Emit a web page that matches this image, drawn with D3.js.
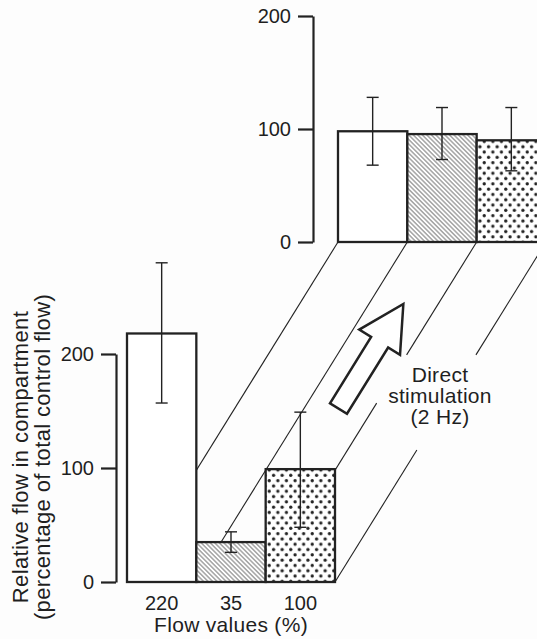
<!DOCTYPE html>
<html><head><meta charset="utf-8">
<script src="https://cdn.jsdelivr.net/npm/d3@7"></script>
<style>
html,body{margin:0;padding:0;background:#fdfdfd;}
svg{display:block;}
text{font-family:"Liberation Sans",Arial,sans-serif;fill:#1f1f1f;}
</style></head><body>
<script>
// ---- data ----
const categories = ["220", "35", "100"];          // flow values (%)
const controlMean = [218, 35, 99];
const controlHigh = [280, 44, 149];
const controlLow  = [157, 26, 48];
const stimMean = [98, 95.5, 90];                 // direct stimulation (2 Hz)
const stimHigh = [128, 119, 119];
const stimLow  = [68, 73, 63];
const yTicks = [0, 100, 200];
const yTitle = ["Relative flow in compartment", "(percentage of total control flow)"];
const xTitle = "Flow values (%)";
const note = ["Direct", "stimulation", "(2 Hz)"];

// ---- layout ----
const W = 537, H = 639, ink = "#222";
const depth = {dx: 211, dy: -340};
const depthGaps = [null, null, [0.526, 0.668], [0.388, 0.668]];
const svg = d3.select("body").append("svg").attr("width", W).attr("height", H);

const defs = svg.append("defs");
const hs = 3.2;
const hatch = defs.append("pattern").attr("id", "hatch").attr("patternUnits", "userSpaceOnUse")
  .attr("width", hs).attr("height", hs).attr("patternTransform", "rotate(-45)");
hatch.append("rect").attr("width", hs).attr("height", hs).attr("fill", "#fff");
hatch.append("line").attr("x1", hs / 2).attr("x2", hs / 2).attr("y1", 0).attr("y2", hs)
  .attr("stroke", "#3a3a3a").attr("stroke-width", 0.7);
const dw = 8.6, dh = 10.6;
const dots = defs.append("pattern").attr("id", "dots").attr("patternUnits", "userSpaceOnUse")
  .attr("width", dw).attr("height", dh).attr("x", 0.5).attr("y", 1);
dots.append("rect").attr("width", dw).attr("height", dh).attr("fill", "#fff");
dots.append("circle").attr("cx", dw / 4).attr("cy", dh / 4).attr("r", 1.65).attr("fill", "#222");
dots.append("circle").attr("cx", 3 * dw / 4).attr("cy", 3 * dh / 4).attr("r", 1.65).attr("fill", "#222");
const fills = ["#fff", "url(#hatch)", "url(#dots)"];

const xB = d3.scaleBand().domain(categories).range([127, 335]).padding(0);
const yB = d3.scaleLinear().domain([0, 200]).range([582, 354]);
const xT = d3.scaleBand().domain(categories).range([127 + depth.dx, 335 + depth.dx]).padding(0);
const yT = d3.scaleLinear().domain([0, 200]).range([582 + depth.dy, 582 + depth.dy - 226]);

// ---- depth lines ----
const edges = categories.map(c => xB(c)).concat([xB(categories[categories.length - 1]) + xB.bandwidth()]);
const gLines = svg.append("g").attr("stroke", ink).attr("stroke-width", 1.1).attr("fill", "none");
edges.forEach((ex, i) => {
  const p0 = [ex, yB(0)], p1 = [ex + depth.dx, yB(0) + depth.dy];
  const pt = t => [p0[0] + (p1[0] - p0[0]) * t, p0[1] + (p1[1] - p0[1]) * t];
  const segs = depthGaps[i] ? [[0, depthGaps[i][0]], [depthGaps[i][1], 1]] : [[0, 1]];
  segs.forEach(s => {
    const a = pt(s[0]), b = pt(s[1]);
    gLines.append("line").attr("x1", a[0]).attr("y1", a[1]).attr("x2", b[0]).attr("y2", b[1]);
  });
});

// ---- bars ----
function drawPanel(x, y, mean, hi, lo) {
  const g = svg.append("g");
  g.selectAll("rect").data(categories).join("rect")
    .attr("x", d => x(d)).attr("width", x.bandwidth())
    .attr("y", (d, i) => y(mean[i])).attr("height", (d, i) => y(0) - y(mean[i]))
    .attr("fill", (d, i) => fills[i]).attr("stroke", ink).attr("stroke-width", 2.3);
  const eb = g.append("g").attr("stroke", ink).attr("stroke-width", 1.4);
  categories.forEach((c, i) => {
    const cx = x(c) + x.bandwidth() / 2;
    eb.append("line").attr("x1", cx).attr("x2", cx).attr("y1", y(hi[i])).attr("y2", y(lo[i]));
    [hi[i], lo[i]].forEach(v => eb.append("line").attr("x1", cx - 6).attr("x2", cx + 6)
      .attr("y1", y(v)).attr("y2", y(v)));
  });
}
drawPanel(xT, yT, stimMean, stimHigh, stimLow);
drawPanel(xB, yB, controlMean, controlHigh, controlLow);

// ---- axes ----
function drawAxis(y, x0) {
  const g = svg.append("g").attr("transform", `translate(${x0},0)`)
    .call(d3.axisLeft(y).tickValues(yTicks).tickSize(15).tickSizeOuter(0).tickPadding(7).tickFormat(d3.format("d")));
  g.select(".domain").attr("stroke", ink).attr("stroke-width", 2.2);
  g.selectAll(".tick line").attr("stroke", ink).attr("stroke-width", 2.2);
  g.selectAll(".tick text").attr("font-size", 20).attr("fill", "#1f1f1f")
    .attr("font-family", "Liberation Sans, Arial, sans-serif");
}
drawAxis(yB, 116);
drawAxis(yT, 313);

// x tick labels
svg.append("g").selectAll("text").data(categories).join("text")
  .attr("x", d => xB(d) + xB.bandwidth() / 2).attr("y", 610)
  .attr("text-anchor", "middle").attr("font-size", 20).text(d => d);
svg.append("text").attr("x", (xB.range()[0] + xB.range()[1]) / 2).attr("y", 632)
  .attr("text-anchor", "middle").attr("font-size", 21).attr("letter-spacing", 0.3).text(xTitle);

// y title
yTitle.forEach((t, i) => {
  svg.append("text").attr("transform", `translate(${28 + i * 22},457) rotate(-90)`)
    .attr("text-anchor", "middle").attr("font-size", 22).attr("letter-spacing", 0.35).text(t);
});

// ---- arrow annotation ----
const len = Math.hypot(depth.dx, depth.dy);
const u = [depth.dx / len, depth.dy / len], n = [-u[1], u[0]];
const tail = [338.5, 408.5], L = 123, headL = 45, headW = 24, shaftW = 10;
const local = [[L, 0], [L - headL, headW], [L - headL, shaftW], [0, shaftW], [0, -shaftW],
  [L - headL, -shaftW], [L - headL, -headW]];
const pts = local.map(([s, w]) => [tail[0] + s * u[0] + w * n[0], tail[1] + s * u[1] + w * n[1]]);
svg.append("path").attr("d", d3.line()(pts) + "Z").attr("fill", "#fff")
  .attr("stroke", ink).attr("stroke-width", 2.5).attr("stroke-linejoin", "miter");

note.forEach((t, i) => {
  svg.append("text").attr("x", 440).attr("y", 382 + i * 21).attr("text-anchor", "middle")
    .attr("font-size", 21).attr("letter-spacing", 0.3).text(t);
});
</script>
</body></html>
